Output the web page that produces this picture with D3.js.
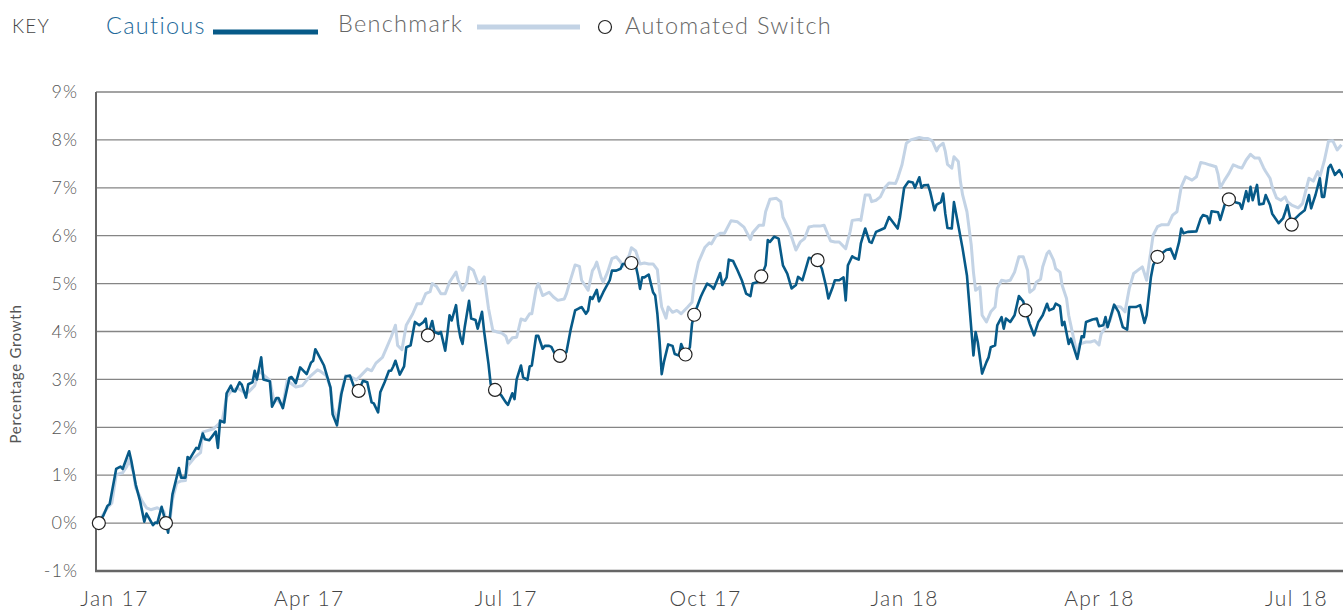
<!DOCTYPE html>
<html><head><meta charset="utf-8">
<script src="https://cdn.jsdelivr.net/npm/d3@7"></script>
<style>
html,body{margin:0;padding:0;background:#fff;overflow:hidden}
svg{display:block}
text{font-family:Lato,"Open Sans",sans-serif}
</style></head><body>
<svg id="chart" width="1343" height="610"></svg>
<script>
// ---------- data ----------
const xTickDates = ["2017-01-01","2017-04-01","2017-07-01","2017-10-01","2018-01-01","2018-04-01","2018-07-01"];
const xTickLabels = ["Jan 17","Apr 17","Jul 17","Oct 17","Jan 18","Apr 18","Jul 18"];
const yTicks = [-1,0,1,2,3,4,5,6,7,8,9];

// days counted from 1 Jan 2017
const cautiousDays = [-7,-5,-3,-2,1,3,4,7,8,10,12,14,15,18,19,20,22,24,25,27,30,31,33,34,35,38,39,41,42,44,47,48,49,51,52,54,55,56,58,59,61,62,64,65,66,68,69,72,73,75,76,78,81,82,84,86,89,91,92,93,94,97,100,101,103,105,107,109,111,113,115,117,119,120,122,123,125,127,128,129,130,132,134,135,137,139,141,143,144,145,147,148,150,151,153,154,155,156,158,159,160,161,162,164,165,167,168,170,171,173,174,176,178,179,181,182,184,185,186,188,189,191,192,193,195,196,198,199,201,202,204,206,209,211,213,215,216,218,219,220,221,223,224,226,229,230,232,234,235,237,239,241,242,243,244,245,247,248,249,250,251,252,253,254,256,258,259,261,262,264,266,267,268,271,272,274,276,277,280,281,283,284,286,288,290,292,294,295,297,299,301,302,303,305,307,309,311,313,315,316,318,320,321,325,327,329,330,332,333,335,337,338,339,341,342,344,345,347,349,350,352,354,356,358,360,362,363,365,367,369,370,372,373,374,376,377,379,380,382,383,384,385,387,388,390,392,394,395,397,398,399,401,403,404,405,407,408,410,411,412,414,416,418,420,421,423,425,427,429,431,432,434,435,437,438,439,441,442,444,445,447,448,449,452,454,455,457,458,459,462,464,466,468,469,472,474,476,477,479,480,482,484,486,488,490,492,493,494,496,500,502,503,505,506,507,510,511,513,515,518,520,521,523,524,525,526,528,529,531,532,534,535,538,540,541,542,544,545,548,550,552,553,554,555,557,558,559,561,562,564,566,568];
const cautiousValues = [0,0.15,0.36,0.4,1.13,1.18,1.13,1.5,1.3,0.81,0.47,0.03,0.2,-0.04,0.01,0,0.34,0,-0.2,0.6,1.15,0.95,0.95,1.38,1.34,1.57,1.55,1.87,1.75,1.73,1.91,1.57,2.14,2.1,2.71,2.87,2.76,2.75,2.94,2.89,2.62,2.9,2.94,3.18,3.0,3.46,3.0,2.96,2.43,2.61,2.61,2.4,3.03,3.05,2.92,3.25,3.11,3.35,3.39,3.63,3.55,3.29,2.83,2.27,2.04,2.69,3.06,3.08,2.83,2.76,2.97,2.94,2.52,2.5,2.31,2.73,2.94,3.18,3.18,3.27,3.39,3.1,3.27,3.67,3.71,4.2,4.13,4.2,4.27,3.92,4.22,3.99,3.95,3.99,3.6,3.95,4.34,4.23,4.55,4.13,3.88,3.74,4.09,4.64,4.27,4.24,4.06,4.41,3.99,3.32,2.9,2.78,2.71,2.66,2.52,2.47,2.71,2.59,3.0,3.29,3.04,2.99,3.27,3.29,3.91,3.91,3.64,3.7,3.7,3.68,3.5,3.49,3.57,4.05,4.44,4.49,4.51,4.37,4.44,4.72,4.68,4.87,4.63,4.82,5.07,5.27,5.27,5.31,5.41,5.41,5.43,5.38,5.17,4.89,5.13,5.13,5.19,5.0,4.82,4.75,4.37,3.81,3.11,3.36,3.73,3.7,3.53,3.5,3.74,3.52,3.67,4.16,4.35,4.72,4.82,5.0,4.94,4.89,5.22,4.97,5.13,5.5,5.47,5.28,5.07,4.79,4.74,5.0,5.03,5.15,5.38,5.91,5.87,5.98,5.94,5.38,5.21,4.9,4.97,5.14,5.07,5.38,5.54,5.49,5.31,4.93,4.69,4.93,5.07,5.07,5.13,4.65,5.38,5.57,5.54,5.5,5.84,6.15,5.87,5.85,6.08,6.12,6.16,6.39,6.27,6.15,6.37,7.0,7.13,7.11,7.0,7.22,7.0,7.05,7.06,6.92,6.53,6.65,6.7,6.88,6.46,6.16,6.15,6.7,6.22,5.73,5.17,4.62,3.5,3.99,3.78,3.12,3.36,3.46,3.67,3.71,4.13,4.3,4.06,4.27,4.2,4.34,4.74,4.63,4.44,4.16,3.92,4.2,4.34,4.58,4.44,4.48,4.58,4.53,4.13,4.2,3.74,3.85,3.57,3.43,3.9,3.88,4.2,4.25,4.27,4.11,4.13,4.3,4.09,4.56,4.41,4.09,4.04,4.51,4.51,4.55,4.18,4.34,5.14,5.38,5.56,5.63,5.7,5.73,5.52,5.87,6.15,6.05,6.08,6.09,6.36,6.43,6.4,6.26,6.51,6.49,6.33,6.64,6.76,6.7,6.67,6.56,6.93,6.72,7.02,6.74,7.06,6.65,6.67,6.85,6.64,6.46,6.26,6.36,6.49,6.64,6.23,6.33,6.46,6.53,6.85,6.57,6.71,6.85,7.2,6.81,6.81,7.42,7.48,7.27,7.37,7.21];

const benchmarkDays = [-7,-6,-3,-1,1,4,6,7,9,10,13,15,17,20,23,24,26,27,29,31,33,34,37,40,41,46,50,52,54,57,61,62,65,67,70,72,74,75,78,80,82,84,87,89,91,94,95,98,100,101,103,105,107,110,112,114,117,119,121,124,126,128,130,131,133,135,138,140,142,144,146,147,149,151,153,155,156,158,159,161,163,164,166,168,169,171,173,175,177,179,181,182,184,186,188,190,192,193,195,196,198,201,203,205,208,209,211,213,215,216,219,221,222,223,225,226,228,230,232,234,235,238,239,241,243,245,247,249,251,252,253,255,256,258,260,262,265,267,268,270,273,275,276,278,280,282,285,288,291,294,295,298,300,301,303,306,308,309,312,315,317,319,321,323,326,328,331,333,335,338,340,341,344,345,347,349,350,352,354,356,358,361,362,364,366,368,372,374,376,378,380,381,383,384,385,387,388,390,391,392,394,396,397,398,400,401,403,405,407,408,410,412,414,416,418,420,422,423,425,426,428,429,431,432,434,435,437,438,440,441,443,445,446,449,451,453,455,456,458,460,462,465,467,469,471,473,475,477,478,480,482,484,487,489,491,493,495,498,500,502,504,506,509,510,511,513,515,517,519,521,523,525,527,529,531,532,534,535,537,539,541,542,544,547,549,552,554,556,557,559,561,563,565,567];
const benchmarkValues = [0,0.11,0.32,0.42,1.01,1.05,1.19,1.33,1.05,0.74,0.46,0.32,0.28,0.32,0.25,0.08,0.11,0.49,0.84,0.88,0.89,1.19,1.36,1.47,1.9,1.97,2.14,2.63,2.75,2.82,2.7,2.73,2.87,3.18,3.06,2.98,2.52,2.59,2.45,2.98,2.91,2.84,2.87,2.98,3.08,3.2,3.18,3.08,2.83,2.41,2.13,2.73,3.08,3.04,2.99,3.08,3.22,3.18,3.34,3.46,3.67,3.88,4.13,3.71,3.62,4.13,4.37,4.58,4.58,4.79,4.83,5.0,4.94,4.79,4.79,5.03,5.1,5.24,5.07,4.86,5.03,5.34,5.28,5.03,5.0,5.14,4.48,4.02,3.99,3.97,3.9,3.76,3.87,3.88,4.26,4.23,4.37,4.37,4.89,5.0,4.75,4.82,4.72,4.65,4.68,4.79,5.1,5.39,5.36,5.07,4.86,5.27,5.34,5.45,5.13,5.03,5.24,5.52,5.56,5.45,5.36,5.59,5.75,5.68,5.41,5.43,5.41,5.41,5.29,4.86,4.51,4.28,4.51,4.4,4.44,4.37,4.51,4.61,5.03,5.45,5.76,5.85,5.83,5.99,6.05,6.05,6.31,6.29,6.18,5.92,6.06,6.22,6.22,6.5,6.76,6.78,6.71,6.39,6.11,5.7,5.87,5.94,6.18,6.2,6.2,6.22,5.89,5.87,5.87,5.73,6.08,6.32,6.34,6.32,6.85,6.85,6.71,6.74,6.81,7.0,7.1,7.09,7.2,7.48,7.93,8.0,8.05,8.03,8.03,7.98,7.77,7.86,7.93,7.76,7.49,7.41,7.65,7.55,7.13,6.85,6.5,5.8,5.24,4.86,4.93,4.34,4.2,4.41,4.51,4.9,5.07,5.05,5.07,5.24,5.56,5.56,5.28,4.82,4.89,5.03,5.09,5.35,5.63,5.68,5.49,5.31,5.24,4.96,4.69,4.34,3.92,3.5,3.74,3.78,3.78,3.81,3.72,3.95,4.09,4.22,4.53,4.51,4.41,4.9,5.21,5.28,5.35,5.07,5.38,6.01,6.19,6.23,6.23,6.43,6.5,7.02,7.23,7.16,7.23,7.53,7.51,7.48,7.44,7.28,7.0,7.16,7.3,7.48,7.44,7.41,7.58,7.7,7.62,7.62,7.42,7.34,7.2,7.02,6.79,6.74,6.81,6.71,6.64,6.58,6.67,7.2,7.14,7.34,7.23,7.55,7.97,7.98,7.79,7.9];

const switchDays = [-7,24,113,145,176,206,239,264,268,299,325,421,482,515,544];

// ---------- drawing ----------
const W = 1343, H = 610;
const mLeft = 96, mTop = 92, mBottom = 571;
const parseDate = d3.utcParse("%Y-%m-%d");
const baseDate = parseDate("2017-01-01");
const dayToDate = d => d3.utcDay.offset(baseDate, d);

const x = d3.scaleUtc().domain([parseDate("2017-01-01"), parseDate("2018-07-01")]).range([114, 1296]);
const y = d3.scaleLinear().domain([-1, 9]).range([mBottom, mTop]);

const svg = d3.select("#chart");

const cautious = cautiousDays.map((d, i) => ({date: dayToDate(d), v: cautiousValues[i]}));
const benchmark = benchmarkDays.map((d, i) => ({date: dayToDate(d), v: benchmarkValues[i]}));
const switches = switchDays.map(d => {
  const i = cautiousDays.indexOf(d);
  return {date: dayToDate(d), v: cautiousValues[i]};
});

// gridlines
svg.append("g").selectAll("line")
  .data(yTicks.filter(t => t > -1))
  .join("line")
  .attr("x1", mLeft).attr("x2", W)
  .attr("y1", d => y(d)).attr("y2", d => y(d))
  .attr("stroke", "#858585").attr("stroke-width", 1.3);

// y axis labels
const yAxis = svg.append("g").attr("transform", `translate(${mLeft},0)`)
  .call(d3.axisLeft(y).tickValues(yTicks).tickFormat(d => d + "%").tickSize(0).tickPadding(18));
yAxis.select(".domain").remove();
yAxis.selectAll("text").attr("font-size", 18).attr("letter-spacing", 1).attr("fill", "#555")
  .attr("font-family", "Lato, sans-serif").attr("font-weight", 300);

// x axis labels
const xAxis = svg.append("g").attr("transform", `translate(0,${mBottom})`)
  .call(d3.axisBottom(x).tickValues(xTickDates.map(parseDate)).tickFormat((d, i) => xTickLabels[i]).tickSize(0));
xAxis.select(".domain").remove();
xAxis.selectAll("text").attr("y", 35).attr("dy", null)
  .attr("font-size", 21).attr("letter-spacing", 1.4).attr("fill", "#444")
  .attr("font-family", "Lato, sans-serif").attr("font-weight", 300);

// axis lines
svg.append("line").attr("x1", mLeft).attr("x2", mLeft).attr("y1", mTop).attr("y2", mBottom + 1)
  .attr("stroke", "#666").attr("stroke-width", 2);
svg.append("line").attr("x1", mLeft - 1).attr("x2", W).attr("y1", mBottom).attr("y2", mBottom)
  .attr("stroke", "#666").attr("stroke-width", 2.5);

// y title
svg.append("text").attr("transform", `translate(21,374) rotate(-90)`)
  .attr("text-anchor", "middle").attr("font-size", 15).attr("letter-spacing", 0.7).attr("fill", "#555")
  .text("Percentage Growth");

// lines
svg.append("clipPath").attr("id", "clip").append("rect")
  .attr("x", mLeft).attr("y", 0).attr("width", W - mLeft).attr("height", H);
const line = d3.line().x(d => x(d.date)).y(d => y(d.v));
const plot = svg.append("g").attr("clip-path", "url(#clip)");
plot.append("path").datum(benchmark).attr("d", line)
  .attr("fill", "none").attr("stroke", "#c3d3e5").attr("stroke-width", 3).attr("stroke-linejoin", "round");
plot.append("path").datum(cautious).attr("d", line)
  .attr("fill", "none").attr("stroke", "#075a88").attr("stroke-width", 2.6).attr("stroke-linejoin", "round");
svg.append("g").selectAll("circle").data(switches).join("circle")
  .attr("cx", d => x(d.date)).attr("cy", d => y(d.v)).attr("r", 6.5)
  .attr("fill", "#fff").attr("stroke", "#222").attr("stroke-width", 1.2);

// legend
const lg = svg.append("g").attr("font-weight", 300);
lg.append("text").attr("x", 12).attr("y", 33).attr("font-size", 19).attr("letter-spacing", 1.2).attr("fill", "#444").text("KEY");
lg.append("text").attr("x", 106).attr("y", 34).attr("font-size", 23.5).attr("letter-spacing", 1.3).attr("fill", "#23699a").text("Cautious");
lg.append("line").attr("x1", 213).attr("x2", 318).attr("y1", 32).attr("y2", 32).attr("stroke", "#075a88").attr("stroke-width", 5);
lg.append("text").attr("x", 338).attr("y", 32).attr("font-size", 23.5).attr("letter-spacing", 1.3).attr("fill", "#666").text("Benchmark");
lg.append("line").attr("x1", 477).attr("x2", 580).attr("y1", 27).attr("y2", 27).attr("stroke", "#c3d3e5").attr("stroke-width", 5);
lg.append("circle").attr("cx", 605).attr("cy", 27).attr("r", 6.5).attr("fill", "#fff").attr("stroke", "#222").attr("stroke-width", 1.2);
lg.append("text").attr("x", 625).attr("y", 34).attr("font-size", 23.5).attr("letter-spacing", 1.3).attr("fill", "#666").text("Automated Switch");
</script>
</body></html>
